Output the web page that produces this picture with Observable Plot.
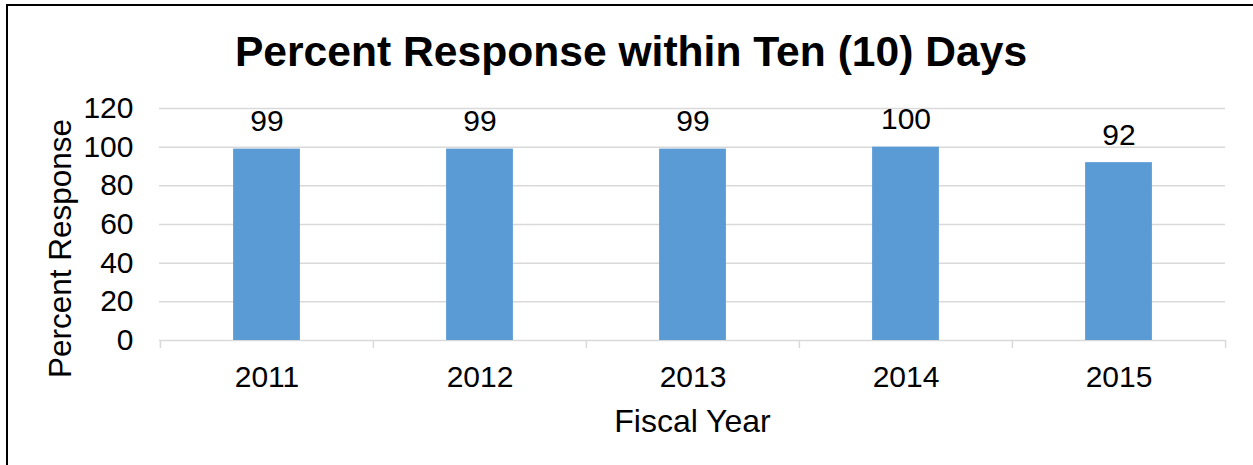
<!DOCTYPE html>
<html>
<head>
<meta charset="utf-8">
<script src="https://cdn.jsdelivr.net/npm/d3@7"></script>
<script src="https://cdn.jsdelivr.net/npm/@observablehq/plot@0.6"></script>
<style>
  html, body { margin: 0; padding: 0; background: #fff; overflow: hidden; width: 1253px; height: 465px; }
  body { position: relative; font-family: "Liberation Sans", Arial, sans-serif; }
  #frame { position: absolute; left: 6px; top: 4px; width: 1300px; height: 520px; border: 2px solid #000; box-sizing: border-box; pointer-events: none; }
  #title { height: 80px; box-sizing: border-box; padding-top: 30px; padding-left: 9px; text-align: center; font-weight: bold; font-size: 42.6px; line-height: 42px; color: #000; white-space: nowrap; }
  #chart svg { display: block; overflow: visible; }
</style>
</head>
<body>
<div id="frame"></div>
<div id="title">Percent Response within Ten (10) Days</div>
<div id="chart"></div>
<script>
const years = ["2011", "2012", "2013", "2014", "2015"];
const values = [99, 99, 99, 100, 92];
const yTicks = [0, 20, 40, 60, 80, 100, 120];
const xTitle = "Fiscal Year";
const yTitle = "Percent Response";

const data = years.map((y, i) => ({year: y, value: values[i]}));

const width = 1253, height = 385;
const marginLeft = 159, marginRight = 28, marginTop = 28, marginBottom = 125;
const frameW = width - marginLeft - marginRight;
const frameH = height - marginTop - marginBottom;
const step = frameW / years.length;
const barW = 67;
const inset = (step - barW) / 2;
const fs = 30;

const chart = Plot.plot({
  width, height, marginLeft, marginRight, marginTop, marginBottom,
  style: {fontFamily: '"Liberation Sans", Arial, sans-serif', fontSize: fs + "px", color: "#000", background: "transparent", overflow: "visible"},
  x: {domain: years, padding: 0, label: null},
  y: {domain: [0, 120], ticks: yTicks, label: null},
  marks: [
    Plot.ruleY(yTicks, {y: d => d, stroke: "#d9d9d9", strokeWidth: 1.5}),
    Plot.barY(data, {x: "year", y: "value", fill: "#5b9bd5", insetLeft: inset, insetRight: inset}),
    Plot.ruleX(years, {x: d => d, dx: -step / 2, stroke: "#d9d9d9", strokeWidth: 1.5, insetTop: frameH, insetBottom: -8}),
    Plot.ruleX(years.slice(-1), {x: d => d, dx: step / 2, stroke: "#d9d9d9", strokeWidth: 1.5, insetTop: frameH, insetBottom: -8}),
    Plot.axisY({ticks: yTicks, tickSize: 0, tickPadding: 26, fontSize: fs, label: null}),
    Plot.axisX({tickSize: 0, tickPadding: 25, fontSize: fs, label: null}),
    Plot.text(data, {x: "year", y: "value", text: d => String(d.value), lineAnchor: "bottom", dy: -18, fontSize: fs, fill: "#000"}),
    Plot.text([yTitle], {text: d => d, frameAnchor: "left", textAnchor: "middle", lineAnchor: "middle", rotate: -90, dx: -99, dy: 24, fontSize: 31.5, fill: "#000"}),
    Plot.text([xTitle], {text: d => d, frameAnchor: "bottom", lineAnchor: "top", dy: 69, fontSize: 32, fill: "#000"})
  ]
});
document.getElementById("chart").appendChild(chart);
</script>
</body>
</html>
